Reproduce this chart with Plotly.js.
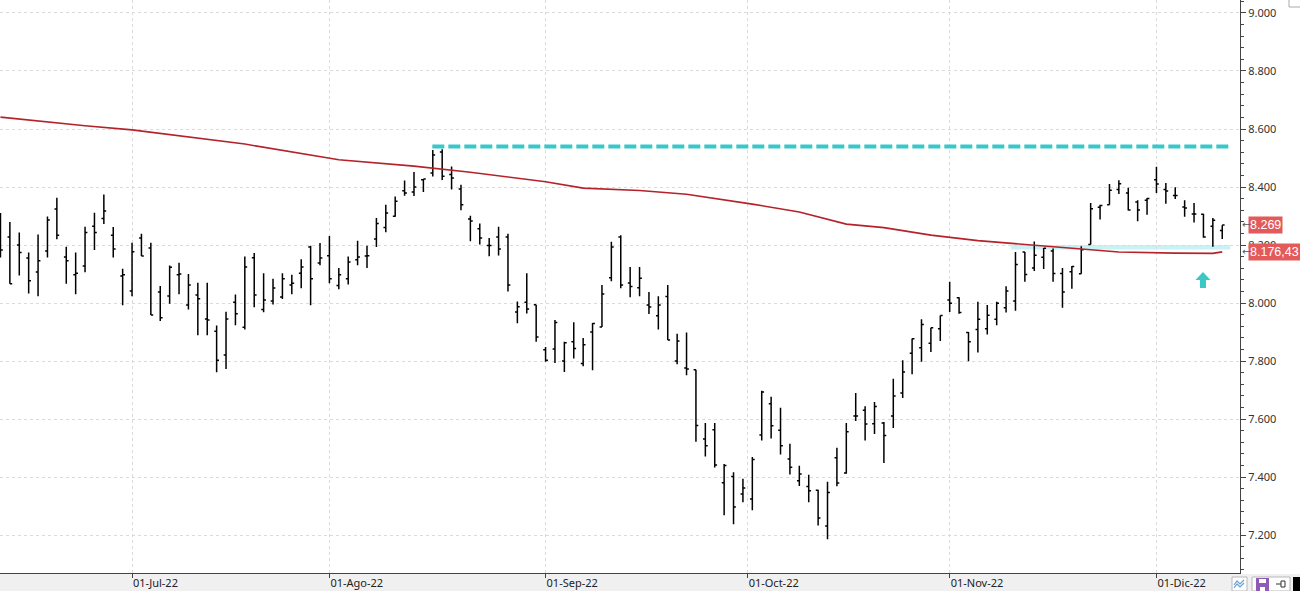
<!DOCTYPE html>
<html>
<head>
<meta charset="utf-8">
<script src="https://cdn.plot.ly/plotly-3.0.1.min.js"></script>
<style>html,body{margin:0;padding:0;background:#fff;}#chart{width:1300px;height:591px;}</style>
</head>
<body>
<div id="chart"></div>
<script>
// ---- trading calendar (categories) ----
const junDays = [13,14,15,16,17,20,21,22,23,24,27,28,29,30];
const julDays = [1,4,5,6,7,8,11,12,13,14,15,18,19,20,21,22,25,26,27,28,29];
const augDays = [1,2,3,4,5,8,9,10,11,12,15,16,17,18,19,22,23,24,25,26,29,30,31];
const sepDays = [1,2,5,6,7,8,9,12,13,14,15,16,19,20,21,22,23,26,27,28,29,30];
const octDays = [3,4,5,6,7,10,11,12,13,14,17,18,19,20,21,24,25,26,27,28,31];
const novDays = [1,2,3,4,7,8,9,10,11,14,15,16,17,18,21,22,23,24,25,28,29,30];
const decDays = [1,2,5,6,7,8,9,12];

// ---- OHLC series ----
const open = [8290,8228,8200,8155,8107,8179,8324,8159,8097,8128,8265,8291,8234,8093,8041,8224,8190,8038,8024,8097,
7993,8028,7945,7903,7821,8003,7916,8156,7978,8007,8021,8062,8103,8193,8138,8163,8060,8084,8149,8162,
8221,8260,8299,8387,8383,8425,8448,8521,8443,8393,8290,8256,8198,8228,8228,7969,8003,7994,7839,7841,
7800,7866,7791,7900,7917,8087,8228,8069,8053,7993,7956,8022,7800,7776,7770,7531,7563,7380,7402,7341,
7324,7545,7653,7561,7462,7387,7367,7354,7231,7466,7414,7610,7630,7584,7586,7610,7690,7827,7846,7861,
7911,8010,8018,7898,7909,7911,7944,7984,8007,8176,8121,8158,8179,8102,8108,8101,8202,8330,8339,8391,
8379,8348,8354,8425,8391,8371,8331,8307,8306,8265,8250];
const high = [8310,8279,8243,8174,8236,8298,8363,8194,8174,8263,8311,8374,8262,8118,8208,8239,8208,8059,8129,8139,
8100,8070,8070,7922,7970,8029,8160,8172,8103,8084,8103,8097,8151,8197,8207,8231,8121,8160,8215,8197,
8293,8339,8367,8422,8452,8428,8528,8530,8471,8408,8301,8274,8224,8263,8239,8005,8103,7994,7848,7941,
7866,7934,7879,7931,8062,8211,8234,8124,8124,8038,8023,8062,7894,7898,7770,7586,7586,7445,7416,7394,
7469,7697,7677,7639,7515,7439,7408,7356,7384,7501,7586,7690,7644,7659,7590,7739,7803,7878,7944,7915,
7957,8073,8020,7900,8004,7993,8004,8058,8176,8176,8212,8190,8188,8121,8128,8196,8345,8339,8410,8423,
8397,8354,8362,8470,8414,8399,8354,8345,8308,8293,8268];
const low = [8157,8066,8095,8033,8023,8157,8220,8066,8030,8106,8183,8272,8157,7992,8023,8162,7959,7938,7997,8030,
7978,7889,7889,7761,7772,7923,7909,7985,7968,7995,8014,8030,8051,7992,8130,8068,8047,8064,8130,8121,
8193,8244,8297,8370,8369,8383,8436,8424,8391,8320,8213,8202,8161,8164,8040,7930,7964,7866,7797,7793,
7762,7809,7782,7768,7917,8075,8051,8020,8023,7962,7909,7872,7789,7751,7522,7471,7433,7268,7237,7313,
7285,7526,7533,7478,7409,7369,7313,7233,7185,7368,7411,7593,7526,7548,7448,7569,7672,7754,7797,7831,
7869,7969,7963,7799,7829,7891,7923,7967,7973,8073,8110,8117,8073,7984,8049,8101,8202,8288,8339,8376,
8319,8282,8304,8379,8342,8359,8297,8278,8225,8194,8221];
const close = [8183,8066,8174,8077,8146,8286,8234,8146,8103,8243,8243,8317,8186,8097,8177,8162,7959,7949,8123,8100,
8062,8015,7941,7803,7945,7963,8124,8028,8010,8052,8084,8068,8124,8084,8155,8084,8097,8141,8159,8163,
8274,8310,8351,8379,8400,8428,8510,8437,8431,8339,8283,8224,8198,8186,8062,7987,7979,7883,7803,7933,
7863,7843,7856,7929,8031,8193,8062,8057,8085,7986,7993,7872,7869,7772,7578,7508,7441,7440,7297,7362,
7460,7693,7577,7508,7434,7410,7353,7259,7347,7379,7556,7610,7583,7643,7543,7679,7762,7877,7926,7915,
7957,7999,7967,7866,7944,7958,7999,8041,8133,8098,8165,8189,8102,8038,8126,8184,8325,8336,8389,8411,
8321,8321,8360,8410,8386,8371,8328,8307,8228,8285,8269];

// ---- 200-session moving average, read at selected sessions ----
const smaDates = ['2022-06-13','2022-06-20','2022-06-24','2022-07-01','2022-07-19','2022-08-02','2022-08-12','2022-08-22',
'2022-09-01','2022-09-07','2022-09-15','2022-09-22','2022-10-03','2022-10-10','2022-10-17','2022-10-21','2022-10-28',
'2022-11-04','2022-11-14','2022-11-21','2022-11-25','2022-12-05','2022-12-09','2022-12-12'];
const smaValues = [8641,8624,8611,8597,8548,8494,8472,8451,8418,8396,8388,8375,8341,8314,8272,8260,8234,
8215,8200,8185,8176,8172,8171,8176.43];

// ---- reference levels ----
const resistanceLevel = 8540;
const resistanceStart = '2022-08-16';
const supportLevel = 8192;
const supportStart = '2022-11-10';
const arrowDate = '2022-12-08';
const arrowLevel = 8107;

// ---- axis labels ----
const tickDates = ['2022-07-01','2022-08-01','2022-09-01','2022-10-01','2022-11-01','2022-12-01'];
const tickLabels = ['01-Jul-22','01-Ago-22','01-Sep-22','01-Oct-22','01-Nov-22','01-Dic-22'];

// build date list
const pad = n => (n < 10 ? '0' : '') + n;
const dates = [];
[['2022-06',junDays],['2022-07',julDays],['2022-08',augDays],['2022-09',sepDays],
 ['2022-10',octDays],['2022-11',novDays],['2022-12',decDays]].forEach(([m, days]) => {
  days.forEach(d => dates.push(m + '-' + pad(d)));
});
const idx = d => {
  const i = dates.indexOf(d);
  if (i >= 0) return i;
  const j = dates.findIndex(x => x > d);
  return j - 0.5;
};
const xs = dates.map((d, i) => i);
const tickvals = tickDates.map(idx);
const lastIdx = dates.length - 1;

function fmtEs(v, dec) {
  const s = v.toFixed(dec);
  const parts = s.split('.');
  const intPart = parts[0].replace(/\B(?=(\d{3})+(?!\d))/g, '.');
  return parts.length > 1 ? intPart + ',' + parts[1] : intPart;
}
const lastClose = close[close.length - 1];
const lastSma = smaValues[smaValues.length - 1];

const traces = [
  {
    type: 'ohlc', x: xs, open: open, high: high, low: low, close: close,
    increasing: {line: {color: '#000000', width: 1.5}},
    decreasing: {line: {color: '#000000', width: 1.5}},
    tickwidth: 0.25, hoverinfo: 'skip'
  },
  {
    type: 'scatter', mode: 'lines', x: smaDates.map(idx), y: smaValues,
    line: {color: '#b4232a', width: 1.6}, hoverinfo: 'skip'
  }
];

const W = 1240, H = 573;
const px = v => v / W;
const py = v => (H - v) / H;

const shapes = [
  // bottom strip
  {type: 'rect', xref: 'paper', yref: 'paper', x0: 0, x1: px(1300), y0: py(591), y1: py(574),
   fillcolor: '#f0f0f0', line: {width: 0}, layer: 'below'},
  // support band
  {type: 'line', xref: 'x', yref: 'y', x0: idx(supportStart) - 0.5, x1: lastIdx + 0.85,
   y0: supportLevel, y1: supportLevel, line: {color: '#c8f2f4', width: 4.5}, layer: 'below'},
  // resistance dashed line
  {type: 'line', xref: 'x', yref: 'y', x0: idx(resistanceStart) - 0.05, x1: lastIdx + 0.65,
   y0: resistanceLevel, y1: resistanceLevel, line: {color: '#3cc7c7', width: 4, dash: '12px,4px'}},
  // arrow
  {type: 'path', xref: 'x', yref: 'y', xsizemode: 'pixel', ysizemode: 'pixel',
   xanchor: idx(arrowDate) - 0.05, yanchor: arrowLevel,
   path: 'M0,0 L7.5,-8 L3,-8 L3,-16 L-3,-16 L-3,-8 L-7.5,-8 Z',
   fillcolor: '#3cc7c7', line: {width: 0}},
  // top-right icon
  {type: 'rect', xref: 'paper', yref: 'paper', x0: px(1289), x1: px(1301), y0: py(7), y1: py(-1),
   fillcolor: '#ffffff', line: {color: '#aaaaaa', width: 1}},
  // bottom-right icons
  {type: 'rect', xref: 'paper', yref: 'paper', x0: px(1232), x1: px(1247), y0: py(591), y1: py(577),
   fillcolor: '#ffffff', line: {color: '#b8b8b8', width: 1}},
  {type: 'path', xref: 'paper', yref: 'paper',
   path: 'M' + px(1234) + ',' + py(585) + ' L' + px(1237) + ',' + py(581) + ' L' + px(1240) + ',' + py(584) + ' L' + px(1244) + ',' + py(580),
   line: {color: '#6a9fd8', width: 1.2}},
  {type: 'path', xref: 'paper', yref: 'paper',
   path: 'M' + px(1234) + ',' + py(588) + ' L' + px(1237) + ',' + py(584) + ' L' + px(1240) + ',' + py(587) + ' L' + px(1244) + ',' + py(583),
   line: {color: '#6a9fd8', width: 1.2}},
  {type: 'rect', xref: 'paper', yref: 'paper', x0: px(1252), x1: px(1290), y0: py(591), y1: py(577),
   fillcolor: '#ffffff', line: {color: '#b8b8b8', width: 1}},
  {type: 'rect', xref: 'paper', yref: 'paper', x0: px(1256), x1: px(1269), y0: py(591), y1: py(578),
   fillcolor: '#8e5bb8', line: {width: 0}},
  {type: 'rect', xref: 'paper', yref: 'paper', x0: px(1259), x1: px(1266), y0: py(583), y1: py(579),
   fillcolor: '#ffffff', line: {width: 0}},
  {type: 'rect', xref: 'paper', yref: 'paper', x0: px(1260), x1: px(1265), y0: py(591), y1: py(587),
   fillcolor: '#ffffff', line: {width: 0}},
  {type: 'path', xref: 'paper', yref: 'paper',
   path: 'M' + px(1276) + ',' + py(584) + ' L' + px(1281) + ',' + py(584) + ' M' + px(1281) + ',' + py(581) + ' L' + px(1281) + ',' + py(587) + ' L' + px(1285) + ',' + py(587) + ' L' + px(1285) + ',' + py(581) + ' Z',
   line: {color: '#333333', width: 1}},
  {type: 'rect', xref: 'paper', yref: 'paper', x0: px(1293), x1: px(1301), y0: py(591), y1: py(577),
   fillcolor: '#000000', line: {width: 0}}
];

const labelFont = {family: 'Liberation Sans, Arial, sans-serif', size: 12.5, color: '#ffffff'};
const annotations = [
  {xref: 'paper', yref: 'y', x: 1, y: lastClose, xanchor: 'left', xshift: 8, showarrow: false,
   text: fmtEs(lastClose, 0), bgcolor: '#e35a5a', borderpad: 1, font: labelFont},
  {xref: 'paper', yref: 'y', x: 1, y: lastSma, xanchor: 'left', xshift: 8, showarrow: false,
   text: fmtEs(lastSma, 2), bgcolor: '#e35a5a', borderpad: 1, font: labelFont},
  {xref: 'paper', yref: 'y', x: 1, y: lastClose, xanchor: 'left', xshift: 0, showarrow: false,
   text: '←', font: {family: 'DejaVu Sans, sans-serif', size: 10, color: '#555555'}},
  {xref: 'paper', yref: 'y', x: 1, y: lastSma, xanchor: 'left', xshift: 0, showarrow: false,
   text: '←', font: {family: 'DejaVu Sans, sans-serif', size: 10, color: '#555555'}}
];

const layout = {
  width: 1300, height: 591,
  margin: {l: 0, r: 60, t: 0, b: 18, pad: 0},
  paper_bgcolor: '#ffffff', plot_bgcolor: '#ffffff',
  showlegend: false,
  separators: ',.',
  font: {family: 'Noto Sans, sans-serif', size: 11, color: '#333333'},
  xaxis: {
    type: 'linear', range: [-0.05, 131.89], fixedrange: true,
    tickmode: 'array', tickvals: tickvals, ticktext: tickLabels,
    showgrid: true, gridcolor: '#dadada', griddash: '3px,3px', gridwidth: 1,
    ticks: 'outside', ticklen: 4, tickcolor: '#444444',
    showline: true, linecolor: '#444444', linewidth: 1, zeroline: false,
    ticklabelposition: 'outside right',
    tickfont: {family: 'Noto Sans, sans-serif', size: 11, color: '#222222'},
    rangeslider: {visible: false}
  },
  yaxis: {
    side: 'right', range: [7069, 9044.8], fixedrange: true,
    tick0: 7200, dtick: 200, tickformat: ',.0f',
    showgrid: true, gridcolor: '#dadada', griddash: '3px,3px', gridwidth: 1,
    ticks: 'outside', ticklen: 5, tickcolor: '#444444',
    minor: {dtick: 40, tick0: 7200, ticks: 'outside', ticklen: 3, tickcolor: '#444444', showgrid: false},
    showline: true, linecolor: '#444444', linewidth: 1, zeroline: false,
    tickfont: {family: 'Noto Sans, sans-serif', size: 11, color: '#333333'}
  },
  shapes: shapes,
  annotations: annotations
};

Plotly.newPlot('chart', traces, layout, {displayModeBar: false, staticPlot: true});
</script>
</body>
</html>
